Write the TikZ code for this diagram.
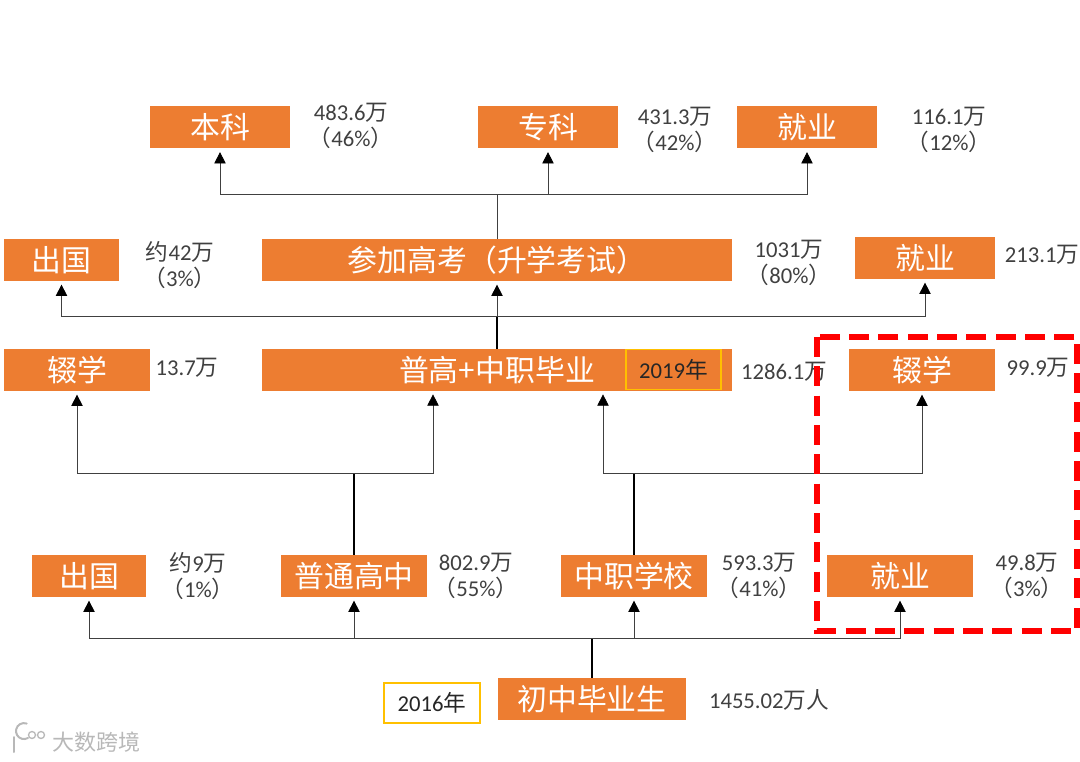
\documentclass[tikz,border=0pt]{standalone}
\usepackage{fontspec}
\setmainfont{Carlito}
\newfontfamily\cjk{Noto Sans CJK SC}
\usetikzlibrary{arrows.meta}

\definecolor{boxorange}{HTML}{ED7D31}
\definecolor{yearyellow}{HTML}{FFC000}
\definecolor{labelgray}{HTML}{404040}

\newcommand{\wan}{{\cjk 万}}
\newcommand{\lp}{{\cjk （}}
\newcommand{\rp}{{\cjk ）}}

\tikzset{
  box/.style={fill=boxorange, text=white, inner sep=0pt, minimum height=31.5pt,
    font=\cjk\fontsize{22.4}{22.4}\selectfont},
  amount/.style={text=labelgray, inner sep=0pt, align=center,
    font=\fontsize{17}{19.5}\selectfont},
  yearbox/.style={draw=yearyellow, line width=1.2pt, inner sep=0pt, minimum height=30pt,
    minimum width=71pt, text=black!85, font=\fontsize{17}{17}\selectfont},
  link/.style={draw=black!75, line width=0.6pt},
  trunk/.style={draw=black, line width=1pt},
  linkarrow/.style={link, -{Stealth[length=8.5pt,width=8.5pt,inset=0pt,black]}, shorten >=2.5pt},
  watermark/.style={text=black!28, inner sep=0pt, font=\cjk\fontsize{16.5}{16.5}\selectfont}
}

\begin{document}
\begin{tikzpicture}[x=0.75pt, y=-0.75pt]
  \useasboundingbox (0,0) rectangle (1080,762);

  % top row
  \node[box, minimum width=105pt] (benke) at (220,127.5) {本科};
  \node[box, minimum width=105pt] (zhuanke) at (548,127.5) {专科};
  \node[box, minimum width=105pt] (jiuyeA) at (807,127.5) {就业};
  \node[amount] (benkeN) at (351,126) {483.6\wan\\\lp46\%\rp};
  \node[amount] (zhuankeN) at (675,130) {431.3\wan\\\lp42\%\rp};
  \node[amount] (jiuyeAN) at (949,130) {116.1\wan\\\lp12\%\rp};

  % second row
  \node[box, minimum width=86pt] (chuguoA) at (61.5,260) {出国};
  \node[box, minimum width=352.5pt] (gaokao) at (497,260) {参加高考（升学考试）};
  \node[box, minimum width=105pt] (jiuyeB) at (925,258) {就业};
  \node[amount] (chuguoAN) at (180,265) {{\cjk 约}42\wan\\\lp3\%\rp};
  \node[amount] (gaokaoN) at (789,263) {1031\wan\\\lp80\%\rp};
  \node[amount] (jiuyeBN) at (1042,255) {213.1\wan};

  % third row
  \node[box, minimum width=110pt] (chuoxueA) at (77,370) {辍学};
  \node[box, minimum width=352.5pt] (biye) at (497,370) {普高+中职毕业};
  \node[box, minimum width=110pt] (chuoxueB) at (922,370) {辍学};
  \node[yearbox] (year2019) at (673.5,369.5) {2019{\cjk 年}};
  \node[amount] (chuoxueAN) at (187,368) {13.7\wan};
  \node[amount] (biyeN) at (784,372) {1286.1\wan};
  \node[amount] (chuoxueBN) at (1038,368) {99.9\wan};

  % fourth row
  \node[box, minimum width=86pt] (chuguoB) at (89,576) {出国};
  \node[box, minimum width=110pt] (putong) at (354,576) {普通高中};
  \node[box, minimum width=110pt] (zhongzhi) at (634,576) {中职学校};
  \node[box, minimum width=110pt] (jiuyeC) at (900,576) {就业};
  \node[amount] (chuguoBN) at (198,576) {{\cjk 约}9\wan\\\lp1\%\rp};
  \node[amount] (putongN) at (476,576) {802.9\wan\\\lp55\%\rp};
  \node[amount] (zhongzhiN) at (759,576) {593.3\wan\\\lp41\%\rp};
  \node[amount] (jiuyeCN) at (1027,576) {49.8\wan\\\lp3\%\rp};

  % bottom row
  \node[box, minimum width=141pt] (chuzhong) at (592,699) {初中毕业生};
  \node[yearbox, minimum width=72pt] (year2016) at (432,703) {2016{\cjk 年}};
  \node[amount] (chuzhongN) at (769,700) {1455.02\wan{\cjk 人}};

  % junctions
  \coordinate (topJ) at (497,194);
  \coordinate (midJ) at (497,316);
  \coordinate (leftJ) at (354,473);
  \coordinate (rightJ) at (634,473);
  \coordinate (lowJ) at (592,638);
  \coordinate (biyeL) at (433,391);
  \coordinate (biyeR) at (603,391);

  % connectors
  \draw[trunk] (chuzhong.north) -- (lowJ);
  \foreach \to in {chuguoB, putong, zhongzhi, jiuyeC}
    \draw[linkarrow] (lowJ) -| (\to.south);

  \draw[trunk] (putong.north) -- (leftJ);
  \draw[linkarrow] (leftJ) -| (chuoxueA.south);
  \draw[linkarrow] (leftJ) -| (biyeL);
  \draw[trunk] (zhongzhi.north) -- (rightJ);
  \draw[linkarrow] (rightJ) -| (biyeR);
  \draw[linkarrow] (rightJ) -| (chuoxueB.south);

  \draw[trunk] (biye.north) -- (midJ);
  \draw[linkarrow] (midJ) -| (chuguoA.south);
  \draw[linkarrow] (midJ) -- (gaokao.south);
  \draw[linkarrow] (midJ) -| (jiuyeB.south);

  \draw[link] (gaokao.north) -- (topJ);
  \foreach \to in {benke, zhuanke, jiuyeA}
    \draw[linkarrow] (topJ) -| (\to.south);

  % red frame
  \draw[red, line width=4.5pt, dash pattern=on 15pt off 7pt] (817,337) rectangle (1077,631);

  % watermark
  \node[watermark] (mark) at (96,742) {大数跨境};
  \draw[black!28, line width=1.5pt, line cap=round] (14,737) -- (14,752);
  \draw[black!28, line width=1.5pt, line cap=round] (28,738) arc (60:290:8);
  \draw[black!28, line width=1pt] (32,735) circle (3.5) (41,735) circle (3.5);
\end{tikzpicture}
\end{document}
